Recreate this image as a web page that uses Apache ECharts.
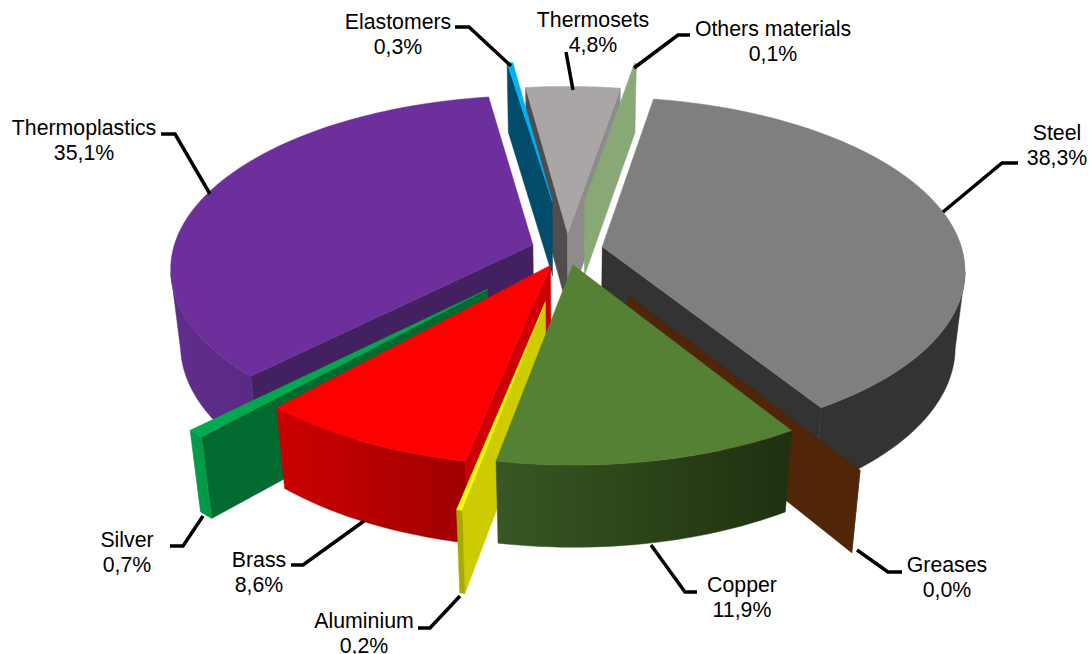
<!DOCTYPE html>
<html>
<head>
<meta charset="utf-8">
<style>
  html, body { margin: 0; padding: 0; background: #fff; }
  #chart { width: 1091px; height: 654px; }
</style>
<script src="https://cdn.jsdelivr.net/npm/echarts@6/dist/echarts.min.js"></script>
</head>
<body>
<div id="chart"></div>
<script>
// data, clockwise from the start angle
var names = ['Steel', 'Greases', 'Copper', 'Aluminium', 'Brass', 'Silver', 'Thermoplastics', 'Elastomers', 'Thermosets', 'Others materials'];
var shares = [38.3, 0.0, 11.9, 0.2, 8.6, 0.7, 35.1, 0.3, 4.8, 0.1];

// how far each slice is pulled out
var explode = [0.1, 0.31, 0.088, 0.3, 0.1, 0.31, 0.1, 0.3, 0.1, 0.3];

// back to front
var drawOrder = [8, 7, 9, 6, 0, 5, 1, 4, 3, 2];

var topColors = ['#7f7f7f', '#512507', '#558135', '#ffff00', '#ff0000', '#00a84f', '#6d2f9c', '#00b0f0', '#aaa6a6', '#88a976'];
var startFaceColors = ['#333333', '#512507', '#2f4a1d', '#cccc00', '#cc0000', '#006a30', '#43205f', '#004c6a', '#4f4d4d', '#88a976'];
var endFaceColors = ['#333333', '#512507', '#2f4a1d', '#cccc00', '#cc0000', '#006a30', '#43205f', '#004c6a', '#8f8b8b', '#88a976'];
var wallLeft = ['#333333', '#512507', '#385723', '#a8a800', '#cc0000', '#009a48', '#5f2d8c', '#004c6a', '#777777', '#88a976'];
var wallRight = ['#333333', '#512507', '#203010', '#a8a800', '#a00000', '#009a48', '#5a2a85', '#004c6a', '#777777', '#88a976'];

// label text centres and leader lines
var labelPos = [[1057, 133], [947, 565], [742, 585], [364, 621], [259, 560], [127, 540], [84, 128], [398, 22], [593, 20], [773, 29]];
var leaders = [
  [[1018, 163], [1002, 163], [943, 212]],
  [[902, 572], [888, 572], [857, 550]],
  [[697, 592], [685, 592], [651, 545]],
  [[418, 628], [430, 628], [460, 596]],
  [[291, 565], [303, 565], [364, 521]],
  [[170, 546], [183, 546], [203, 516]],
  [[161, 134], [175, 134], [210, 194]],
  [[455, 27], [469, 27], [511, 66]],
  [[566, 52], [573, 90]],
  [[690, 35], [678, 35], [634, 68]]
];

// projection of the tilted pie
var cx = 567, cy = 250, rx = 360, ry = 170;
var persp = 0.13, thick = 78, thickShrink = 0.025;
var startAngle = 10;

var rad = Math.PI / 180;
var total = shares.reduce(function(a, b) { return a + b; }, 0);

function project(x, y, low) {
  var w = 1 / (1 - persp * y + (low ? thickShrink : 0));
  return [cx + x * rx * w, cy + y * ry * w + (low ? thick * w : 0)];
}

function sliceGeom(i) {
  var before = 0;
  for (var k = 0; k < i; k++) before += shares[k];
  var a0 = startAngle + before / total * 360;
  var a1 = a0 + shares[i] / total * 360;
  var mid = (a0 + a1) / 2 * rad;
  return {
    a0: a0,
    a1: a1,
    ax: explode[i] * Math.sin(mid),
    ay: -explode[i] * Math.cos(mid)
  };
}

function renderSlice(params, api) {
  var i = api.value(0);
  var g = sliceGeom(i);
  var camY = 1 / persp;
  var children = [];

  function pt(deg) {
    return [g.ax + Math.sin(deg * rad), g.ay - Math.cos(deg * rad)];
  }
  function poly(points, fill) {
    children.push({ type: 'polygon', shape: { points: points }, style: { fill: fill, stroke: fill, lineWidth: 0.5 } });
  }
  function radialFace(deg, sign, color) {
    var p = pt(deg);
    var n = [Math.sin((deg + sign * 90) * rad), -Math.cos((deg + sign * 90) * rad)];
    if (n[0] * -g.ax + n[1] * (camY - g.ay) <= 0) return;
    poly([project(g.ax, g.ay), project(p[0], p[1]), project(p[0], p[1], true), project(g.ax, g.ay, true)], color);
  }

  radialFace(g.a0, -1, startFaceColors[i]);
  radialFace(g.a1, 1, endFaceColors[i]);

  // outer wall, only the part that faces the viewer
  var steps = Math.max(2, Math.ceil((g.a1 - g.a0) / 1.5));
  var upper = [], lower = [], topArc = [];
  for (var s = 0; s <= steps; s++) {
    var deg = g.a0 + (g.a1 - g.a0) * s / steps;
    var p = pt(deg);
    topArc.push(project(p[0], p[1]));
    var nx = Math.sin(deg * rad), ny = -Math.cos(deg * rad);
    if (nx * -p[0] + ny * (camY - p[1]) > 0) {
      upper.push(project(p[0], p[1]));
      lower.unshift(project(p[0], p[1], true));
    }
  }
  if (upper.length > 1) {
    var xs = upper.map(function(q) { return q[0]; });
    poly(upper.concat(lower), new echarts.graphic.LinearGradient(
      Math.min.apply(null, xs), 0, Math.max.apply(null, xs), 0,
      [{ offset: 0, color: wallLeft[i] }, { offset: 1, color: wallRight[i] }], true));
  }

  poly([project(g.ax, g.ay)].concat(topArc), topColors[i]);
  return { type: 'group', children: children };
}

var graphics = [];
names.forEach(function(name, i) {
  graphics.push({
    type: 'polyline',
    shape: { points: leaders[i] },
    style: { stroke: '#000', lineWidth: 3.5, fill: null },
    z: 10
  });
  graphics.push({
    type: 'text',
    x: labelPos[i][0],
    y: labelPos[i][1] - 12,
    style: {
      text: name + '\n' + shares[i].toFixed(1).replace('.', ',') + '%',
      font: '21.3px "Liberation Sans"',
      lineHeight: 24.5,
      fill: '#000',
      align: 'center',
      verticalAlign: 'top'
    },
    z: 11
  });
});

var chart = echarts.init(document.getElementById('chart'), null, { renderer: 'svg' });
chart.setOption({
  animation: false,
  backgroundColor: '#fff',
  graphic: graphics,
  series: [{
    type: 'custom',
    coordinateSystem: 'none',
    silent: true,
    renderItem: renderSlice,
    data: drawOrder.map(function(i) { return [i]; })
  }]
});
window.addEventListener('resize', function() { chart.resize(); });
</script>
</body>
</html>
